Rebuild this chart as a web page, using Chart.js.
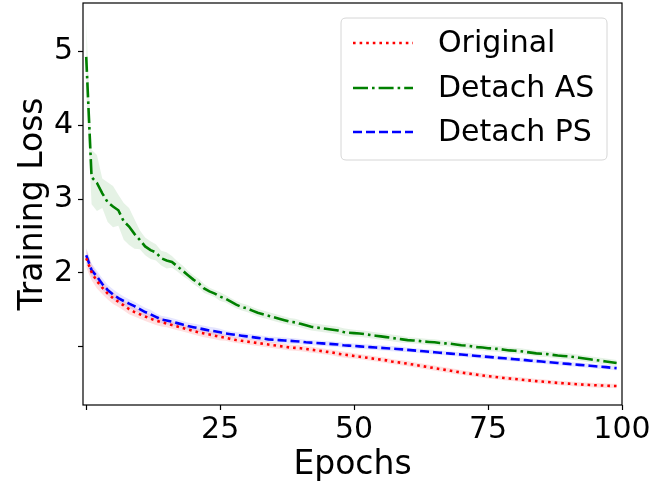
<!DOCTYPE html>
<html>
<head>
<meta charset="utf-8">
<script src="https://cdn.jsdelivr.net/npm/chart.js@4/dist/chart.umd.min.js"></script>
<style>
html,body{margin:0;padding:0;background:#fff;}
canvas{display:block;}
</style>
</head>
<body>
<canvas id="c" width="668" height="487"></canvas>
<script>
// ---- data ----
const epochs = Array.from({length: 100}, (_, i) => i);

const seriesLabels = ['Original', 'Detach AS', 'Detach PS'];

const originalMean = [
  2.20, 2.01, 1.89, 1.80, 1.72, 1.66, 1.61, 1.56, 1.51, 1.47,
  1.44, 1.41, 1.38, 1.355, 1.335, 1.315, 1.295, 1.275, 1.255, 1.235,
  1.215, 1.195, 1.18, 1.165, 1.15, 1.135, 1.12, 1.105, 1.09, 1.08,
  1.07, 1.06, 1.05, 1.04, 1.03, 1.02, 1.01, 1.00, 0.99, 0.985,
  0.98, 0.97, 0.96, 0.95, 0.94, 0.93, 0.92, 0.905, 0.895, 0.885,
  0.875, 0.865, 0.855, 0.845, 0.835, 0.825, 0.815, 0.80, 0.79, 0.78,
  0.77, 0.758, 0.746, 0.734, 0.722, 0.71, 0.698, 0.686, 0.674, 0.662,
  0.65, 0.64, 0.63, 0.62, 0.61, 0.60, 0.593, 0.585, 0.577, 0.57,
  0.562, 0.555, 0.548, 0.541, 0.534, 0.528, 0.522, 0.516, 0.51, 0.505,
  0.50, 0.495, 0.49, 0.486, 0.482, 0.478, 0.475, 0.472, 0.469, 0.467
];
const originalStd = [
  0.13, 0.11, 0.10, 0.09, 0.08, 0.08, 0.07, 0.07, 0.07, 0.06,
  0.06, 0.06, 0.06, 0.06, 0.06, 0.05, 0.05, 0.05, 0.05, 0.05,
  0.05, 0.05, 0.05, 0.05, 0.05, 0.05, 0.04, 0.04, 0.04, 0.04,
  0.04, 0.04, 0.04, 0.04, 0.04, 0.04, 0.04, 0.04, 0.04, 0.04,
  0.04, 0.04, 0.04, 0.04, 0.04, 0.04, 0.04, 0.04, 0.04, 0.04,
  0.035, 0.035, 0.035, 0.035, 0.035, 0.035, 0.035, 0.035, 0.035, 0.035,
  0.035, 0.035, 0.035, 0.035, 0.035, 0.035, 0.035, 0.035, 0.035, 0.035,
  0.03, 0.03, 0.03, 0.03, 0.03, 0.03, 0.03, 0.03, 0.03, 0.03,
  0.03, 0.03, 0.03, 0.03, 0.03, 0.03, 0.03, 0.03, 0.03, 0.03,
  0.03, 0.03, 0.03, 0.03, 0.03, 0.03, 0.03, 0.03, 0.03, 0.03
];

const detachASMean = [
  4.93, 3.30, 3.22, 3.08, 2.96, 2.90, 2.85, 2.70, 2.63, 2.53,
  2.45, 2.36, 2.31, 2.28, 2.20, 2.17, 2.15, 2.09, 2.03, 1.97,
  1.91, 1.86, 1.79, 1.75, 1.72, 1.68, 1.65, 1.61, 1.57, 1.54,
  1.52, 1.49, 1.46, 1.44, 1.42, 1.40, 1.38, 1.36, 1.34, 1.33,
  1.31, 1.29, 1.27, 1.26, 1.25, 1.24, 1.23, 1.22, 1.20, 1.19,
  1.185, 1.18, 1.17, 1.16, 1.15, 1.14, 1.13, 1.12, 1.11, 1.10,
  1.09, 1.085, 1.08, 1.07, 1.065, 1.06, 1.05, 1.045, 1.04, 1.03,
  1.02, 1.015, 1.005, 0.995, 0.99, 0.98, 0.975, 0.97, 0.96, 0.95,
  0.945, 0.94, 0.93, 0.92, 0.91, 0.905, 0.90, 0.89, 0.88, 0.875,
  0.87, 0.86, 0.85, 0.84, 0.83, 0.82, 0.81, 0.80, 0.79, 0.78
];
const detachASStd = [
  0.49, 0.37, 0.38, 0.20, 0.27, 0.28, 0.21, 0.25, 0.25, 0.20,
  0.13, 0.12, 0.12, 0.11, 0.10, 0.11, 0.08, 0.07, 0.07, 0.06,
  0.06, 0.06, 0.06, 0.05, 0.05, 0.06, 0.05, 0.05, 0.05, 0.05,
  0.05, 0.05, 0.05, 0.05, 0.05, 0.05, 0.05, 0.05, 0.05, 0.05,
  0.05, 0.05, 0.05, 0.05, 0.05, 0.05, 0.05, 0.05, 0.05, 0.05,
  0.045, 0.045, 0.045, 0.045, 0.045, 0.045, 0.045, 0.045, 0.045, 0.045,
  0.04, 0.04, 0.04, 0.04, 0.04, 0.04, 0.04, 0.04, 0.04, 0.04,
  0.04, 0.04, 0.04, 0.04, 0.04, 0.04, 0.04, 0.04, 0.04, 0.04,
  0.04, 0.04, 0.04, 0.04, 0.04, 0.04, 0.04, 0.04, 0.04, 0.04,
  0.04, 0.04, 0.04, 0.04, 0.04, 0.04, 0.04, 0.04, 0.04, 0.04
];

const detachPSMean = [
  2.24, 2.04, 1.95, 1.85, 1.77, 1.71, 1.66, 1.62, 1.585, 1.55,
  1.51, 1.47, 1.44, 1.405, 1.37, 1.355, 1.34, 1.32, 1.30, 1.28,
  1.265, 1.25, 1.235, 1.22, 1.21, 1.195, 1.18, 1.17, 1.16, 1.15,
  1.14, 1.13, 1.12, 1.11, 1.10, 1.095, 1.09, 1.085, 1.08, 1.075,
  1.07, 1.06, 1.055, 1.05, 1.045, 1.04, 1.035, 1.03, 1.02, 1.015,
  1.01, 1.005, 1.00, 0.995, 0.99, 0.985, 0.98, 0.975, 0.97, 0.964,
  0.957, 0.951, 0.945, 0.938, 0.932, 0.925, 0.919, 0.913, 0.906, 0.90,
  0.894, 0.887, 0.881, 0.875, 0.868, 0.862, 0.856, 0.849, 0.843, 0.837,
  0.83, 0.824, 0.818, 0.811, 0.805, 0.799, 0.792, 0.786, 0.78, 0.773,
  0.767, 0.761, 0.754, 0.748, 0.742, 0.735, 0.729, 0.723, 0.716, 0.71
];
const detachPSStd = [
  0.10, 0.09, 0.08, 0.08, 0.07, 0.07, 0.07, 0.06, 0.06, 0.06,
  0.06, 0.06, 0.06, 0.05, 0.05, 0.05, 0.05, 0.05, 0.05, 0.05,
  0.05, 0.05, 0.05, 0.05, 0.05, 0.05, 0.04, 0.04, 0.04, 0.04,
  0.04, 0.04, 0.04, 0.04, 0.04, 0.04, 0.04, 0.04, 0.04, 0.04,
  0.035, 0.035, 0.035, 0.035, 0.035, 0.035, 0.035, 0.035, 0.035, 0.035,
  0.035, 0.035, 0.035, 0.035, 0.035, 0.035, 0.035, 0.035, 0.035, 0.035,
  0.03, 0.03, 0.03, 0.03, 0.03, 0.03, 0.03, 0.03, 0.03, 0.03,
  0.03, 0.03, 0.03, 0.03, 0.03, 0.03, 0.03, 0.03, 0.03, 0.03,
  0.03, 0.03, 0.03, 0.03, 0.03, 0.03, 0.03, 0.03, 0.03, 0.03,
  0.03, 0.03, 0.03, 0.03, 0.03, 0.03, 0.03, 0.03, 0.03, 0.03
];

const xTickValues = [0, 25, 50, 75, 100];
const xTickLabels = ['', '25', '50', '75', '100'];
const yTickValues = [1, 2, 3, 4, 5];
const yTickLabels = ['', '2', '3', '4', '5'];

// ---- build ----
const FONT = 'DejaVu Sans';
const pts = arr => arr.map((v, i) => ({x: epochs[i], y: v}));
const band = (mean, std, sign) => mean.map((v, i) => ({x: epochs[i], y: v + sign * std[i]}));

const styles = [
  {color: 'rgb(255,0,0)', fillc: 'rgba(255,0,0,0.12)', dash: [2.6, 4]},
  {color: 'rgb(0,128,0)', fillc: 'rgba(0,128,0,0.10)', dash: [15, 4, 2.6, 4]},
  {color: 'rgb(0,0,255)', fillc: 'rgba(0,0,255,0.10)', dash: [9, 4]}
];
const means = [originalMean, detachASMean, detachPSMean];
const stds = [originalStd, detachASStd, detachPSStd];

const datasets = [];
means.forEach((m, k) => {
  datasets.push({
    label: seriesLabels[k], data: pts(m), borderColor: styles[k].color,
    borderWidth: 2.6, borderDash: styles[k].dash, pointRadius: 0,
    fill: false, order: 0, isMain: true
  });
});
means.forEach((m, k) => {
  datasets.push({
    label: '_low' + k, data: band(m, stds[k], -1), borderWidth: 0,
    borderColor: 'rgba(0,0,0,0)', pointRadius: 0, fill: false, order: 1
  });
  datasets.push({
    label: '_up' + k, data: band(m, stds[k], 1), borderWidth: 0,
    borderColor: 'rgba(0,0,0,0)', backgroundColor: styles[k].fillc,
    pointRadius: 0, fill: '-1', order: 1
  });
});

const framePlugin = {
  id: 'frameLegend',
  afterDraw(chart) {
    const {ctx, chartArea: a} = chart;
    ctx.save();
    ctx.strokeStyle = '#000';
    ctx.lineWidth = 1.2;
    ctx.strokeRect(a.left, a.top, a.right - a.left, a.bottom - a.top);

    // legend
    const bx = 341, by = 18, bw = 266, bh = 142, r = 5;
    ctx.beginPath();
    ctx.moveTo(bx + r, by);
    ctx.lineTo(bx + bw - r, by); ctx.quadraticCurveTo(bx + bw, by, bx + bw, by + r);
    ctx.lineTo(bx + bw, by + bh - r); ctx.quadraticCurveTo(bx + bw, by + bh, bx + bw - r, by + bh);
    ctx.lineTo(bx + r, by + bh); ctx.quadraticCurveTo(bx, by + bh, bx, by + bh - r);
    ctx.lineTo(bx, by + r); ctx.quadraticCurveTo(bx, by, bx + r, by);
    ctx.closePath();
    ctx.fillStyle = 'rgba(255,255,255,0.8)';
    ctx.fill();
    ctx.strokeStyle = '#d6d6d6';
    ctx.lineWidth = 1;
    ctx.stroke();

    const mains = chart.data.datasets.filter(d => d.isMain);
    const rowY = [43, 88, 132];
    mains.forEach((d, i) => {
      ctx.beginPath();
      ctx.setLineDash(d.borderDash);
      ctx.strokeStyle = d.borderColor;
      ctx.lineWidth = d.borderWidth;
      ctx.moveTo(353, rowY[i]);
      ctx.lineTo(413, rowY[i]);
      ctx.stroke();
      ctx.setLineDash([]);
      ctx.fillStyle = '#000';
      ctx.font = '30px "' + FONT + '"';
      ctx.textAlign = 'left';
      ctx.textBaseline = 'middle';
      ctx.fillText(d.label, 438, rowY[i] + 1);
    });
    ctx.restore();
  }
};

const tickFont = {family: FONT, size: 30};
const titleFont = {family: FONT, size: 33, lineHeight: 1};

new Chart(document.getElementById('c'), {
  type: 'line',
  data: {datasets},
  options: {
    responsive: false,
    animation: false,
    devicePixelRatio: 1,
    layout: {padding: {top: 3, right: 46, bottom: 0, left: 0}},
    plugins: {legend: {display: false}, tooltip: {enabled: false}},
    elements: {line: {tension: 0}, point: {radius: 0}},
    scales: {
      x: {
        type: 'linear', min: -0.6, max: 100,
        afterBuildTicks: s => { s.ticks = xTickValues.map(v => ({value: v})); },
        afterFit: s => { s.height = 82; s.paddingLeft = 0; s.paddingRight = 0; },
        ticks: {
          callback: (v, i) => xTickLabels[i],
          font: tickFont, color: '#000', padding: 2, maxRotation: 0, autoSkip: false
        },
        grid: {drawOnChartArea: false, drawTicks: true, tickLength: 5, tickColor: '#000', tickWidth: 1.2},
        border: {display: false},
        title: {display: true, text: 'Epochs', font: titleFont, color: '#000', padding: {top: 0, bottom: 5}}
      },
      y: {
        type: 'linear', min: 0.21, max: 5.66,
        afterBuildTicks: s => { s.ticks = yTickValues.map(v => ({value: v})); },
        afterFit: s => { s.width = 83; s.paddingTop = 0; s.paddingBottom = 0; },
        ticks: {
          callback: (v, i) => yTickLabels[i],
          font: tickFont, color: '#000', padding: 5, autoSkip: false
        },
        grid: {drawOnChartArea: false, drawTicks: true, tickLength: 5, tickColor: '#000', tickWidth: 1.2},
        border: {display: false},
        title: {display: true, text: 'Training Loss', font: titleFont, color: '#000', padding: {top: 17, bottom: 0}}
      }
    }
  },
  plugins: [framePlugin]
});
</script>
</body>
</html>
